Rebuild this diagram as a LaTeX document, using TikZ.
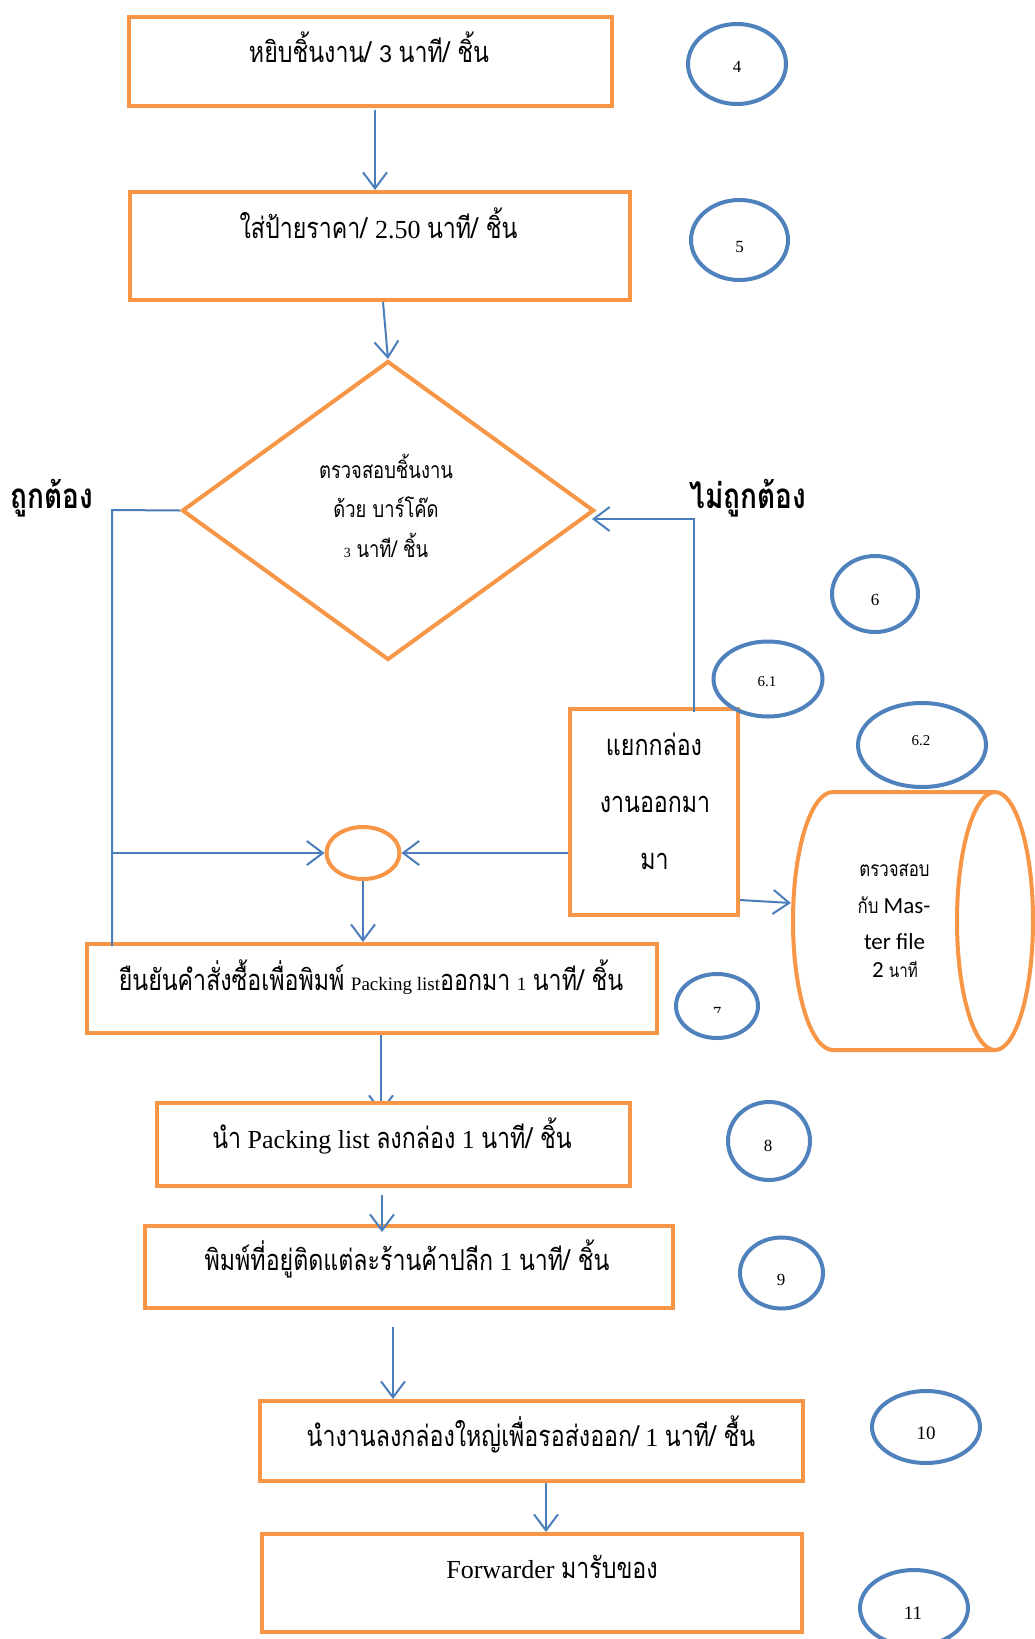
\documentclass[tikz,border=0pt]{standalone}
\usepackage{fontspec}
\setmainfont{Liberation Serif}
\newfontfamily\thaifont[Script=Thai,FakeStretch=0.8]{Loma}
\newfontfamily\calfont{Carlito}
\usetikzlibrary{arrows.meta,shapes.geometric,backgrounds}
\definecolor{boxorange}{HTML}{F79646}
\definecolor{ringblue}{HTML}{4F81BD}
\definecolor{flowblue}{HTML}{4A7EBB}
\newcommand{\tha}[1]{{\thaifont #1}}
\newcommand{\fs}[1]{\fontsize{#1}{#1}\selectfont}
\begin{document}
\begin{tikzpicture}[x=1pt,y=-1pt,
  stepbox/.style={draw=boxorange, line width=4pt, rectangle, inner sep=0pt},
  ring/.style={draw=ringblue, ellipse, line width=4pt, inner sep=0pt},
  txt/.style={inner sep=0pt, anchor=base, font=\fs{26}},
  num/.style={inner sep=0pt, font=\fs{17}},
  flow/.style={draw=flowblue, line width=2pt, -{Straight Barb[length=16pt, width=24pt]}},
  link/.style={draw=flowblue, line width=2pt},
  verdict/.style={inner sep=0pt, anchor=base, font=\fs{35}\bfseries\thaifont}]
\begin{scope}[on background layer]
  \fill[white] (0,0) rectangle (1034,1639);
\end{scope}
\useasboundingbox (0,0) rectangle (1034,1639);

% process boxes
\node[stepbox, minimum width=483pt, minimum height=89pt]  (b1)  at (370.5,61.5) {};
\node[stepbox, minimum width=500pt, minimum height=108pt] (b2)  at (379.5,246) {};
\node[diamond, draw=boxorange, line width=4pt, inner sep=0pt,
      minimum width=412pt, minimum height=299pt]          (dia) at (388,510.5) {};
\node[stepbox, minimum width=168pt, minimum height=206pt] (b61) at (654,812) {};
\node[ellipse, draw=boxorange, line width=4pt, inner sep=0pt,
      minimum width=73pt, minimum height=52pt]            (mrg) at (363,853) {};
\node[stepbox, minimum width=570pt, minimum height=89pt]  (b7)  at (372,988.5) {};
\node[stepbox, fill=white, minimum width=473pt, minimum height=83pt]  (b8)  at (393.5,1144.5) {};
\node[stepbox, minimum width=528pt, minimum height=82pt]  (b9)  at (409,1267) {};
\node[stepbox, minimum width=543pt, minimum height=80pt]  (b10) at (531.5,1441) {};
\node[stepbox, minimum width=540pt, minimum height=98pt]  (b11) at (532,1583) {};

% master file cylinder
\node[inner sep=0pt, minimum width=242pt, minimum height=258pt] (cyl) at (912,921) {};
\draw[boxorange, line width=4pt] (995,792) -- (833,792)
  arc[start angle=90, end angle=270, x radius=40pt, y radius=129pt] -- (995,1050);
\draw[boxorange, line width=4pt] (995,921) ellipse [x radius=38pt, y radius=129pt];

% step numbers
\node[ring, minimum width=98pt,  minimum height=80pt] (r4)  at (737,64) {};
\node[ring, minimum width=97pt,  minimum height=80pt] (r5)  at (739.5,240) {};
\node[ring, minimum width=86pt,  minimum height=76pt] (r6)  at (875,594) {};
\node[ring, minimum width=109pt, minimum height=75pt] (r61) at (768,679) {};
\node[ring, minimum width=128pt, minimum height=84pt] (r62) at (922,745) {};
\node[ring, minimum width=82pt,  minimum height=64pt] (r7)  at (717,1006) {};
\node[ring, minimum width=82pt,  minimum height=78pt] (r8)  at (769,1141) {};
\node[ring, minimum width=83pt,  minimum height=71pt] (r9)  at (781.5,1273) {};
\node[ring, minimum width=108pt, minimum height=72pt] (r10) at (926,1427) {};
\node[ring, minimum width=108pt, minimum height=76pt] (r11) at (914,1608) {};

\node[num] (n4)  at (737,67) {4};
\node[num] (n5)  at (739.5,247) {5};
\node[num] (n6)  at (875,600) {6};
\node[num, font=\fs{15}] (n61) at (767,682) {6.1};
\node[num, font=\fs{15}] (n62) at (921,741) {6.2};
\begin{scope}
  \clip (690,995) rectangle (745,1012);
  \node[num] (n7) at (717,1013) {7};
\end{scope}
\node[num] (n8)  at (768,1146) {8};
\node[num] (n9)  at (781,1280) {9};
\node[num, font=\fs{19}] (n10) at (926,1433) {10};
\node[num, font=\fs{19}] (n11) at (913,1613) {11};

% texts
\node[txt] (t1) at (369,62) {\tha{\fs{29}หยิบชิ้นงาน/ }{\calfont 3} \tha{\fs{29}นาที/ ชิ้น}};
\node[txt] (t2) at (378.5,238) {\tha{\fs{29}ใส่ป้ายราคา/ }2.50 \tha{\fs{29}นาที/ ชิ้น}};
\node[txt, font=\fs{23}] (td1) at (386,478) {\tha{ตรวจสอบชิ้นงาน}};
\node[txt, font=\fs{23}] (td2) at (386,517) {\tha{ด้วย บาร์โค๊ด}};
\node[txt, font=\fs{23}] (td3) at (386,557) {{\fs{14}3} \tha{นาที/ ชิ้น}};
\node[verdict] (ok) at (52,508) {ถูกต้อง};
\node[verdict] (ng) at (748,508) {ไม่ถูกต้อง};
\node[txt, font=\fs{29}\thaifont] (t61a) at (654,755) {แยกกล่อง};
\node[txt, font=\fs{29}\thaifont] (t61b) at (655,812) {งานออกมา};
\node[txt, font=\fs{29}\thaifont] (t61c) at (654.5,869) {มา};
\node[txt, font=\fs{21}\thaifont] (tc1) at (894.5,876) {ตรวจสอบ};
\node[txt, font=\fs{23}\calfont] (tc2) at (894,913) {{\thaifont\fs{21}กับ} Mas-};
\node[txt, font=\fs{23}\calfont] (tc3) at (894.5,949) {ter file};
\node[txt, font=\fs{23}\calfont] (tc4) at (895,977) {2 {\thaifont\fs{19}นาที}};
\node[txt] (t7) at (371,990) {\tha{\fs{29}ยืนยันคำสั่งซื้อเพื่อพิมพ์} {\fs{19}Packing list}\tha{\fs{29}ออกมา} {\fs{19}1} \tha{\fs{29}นาที/ ชิ้น}};
\node[txt] (t8) at (392,1148) {\tha{\fs{29}นำ} Packing list \tha{\fs{29}ลงกล่อง} 1 \tha{\fs{29}นาที/ ชิ้น}};
\node[txt] (t9) at (407,1270) {\tha{\fs{29}พิมพ์ที่อยู่ติดแต่ละร้านค้าปลีก} 1 \tha{\fs{29}นาที/ ชิ้น}};
\node[txt] (t10) at (531,1446) {\tha{\fs{29}นำงานลงกล่องใหญ่เพื่อรอส่งออก/} 1 \tha{\fs{29}นาที/ ชื้น}};
\node[txt] (t11) at (552,1578) {Forwarder \tha{\fs{29}มารับของ}};

% connectors
\coordinate (okTop) at (112,510);
\coordinate (okBot) at (112,946);
\coordinate (okMid) at (112,853);
\coordinate (ngTurn) at (694,519);
\draw[flow] ([xshift=4.5pt,yshift=-2pt]b1.south) -- ([xshift=4.5pt]b1.south |- b2.north);
\draw[flow] ([xshift=3.5pt]b2.south) -- (dia.north);
\draw[link] (dia.west) -- (okTop) -- (okBot);
\draw[flow] (okMid) -- (mrg.west);
\draw[flow] (b61.west |- mrg.east) -- (mrg.east);
\draw[flow] ([xshift=40pt,yshift=-5pt]b61.north) -- (ngTurn) -- ([xshift=-4pt]ngTurn -| dia.east);
\draw[flow] ([yshift=-88pt]b61.east) -- ([yshift=18pt]cyl.west);
\draw[flow] (mrg.south) -- (mrg.south |- b7.north);
\begin{scope}[on background layer]
  % this arrow runs in under the white box below it
  \draw[flow] ([xshift=9pt]b7.south) -- ([xshift=9pt,yshift=-12pt]b7.south |- b8.north);
\end{scope}
\draw[flow] ([xshift=-11.5pt,yshift=-7pt]b8.south) -- ([xshift=-11.5pt,yshift=-44pt]b8.south);
\draw[flow] ([xshift=-16pt,yshift=-17pt]b9.south) -- ([xshift=-16pt]b9.south |- b10.north);
\draw[flow] ([xshift=14.5pt]b10.south) -- ([xshift=14.5pt]b10.south |- b11.north);
\end{tikzpicture}
\end{document}
